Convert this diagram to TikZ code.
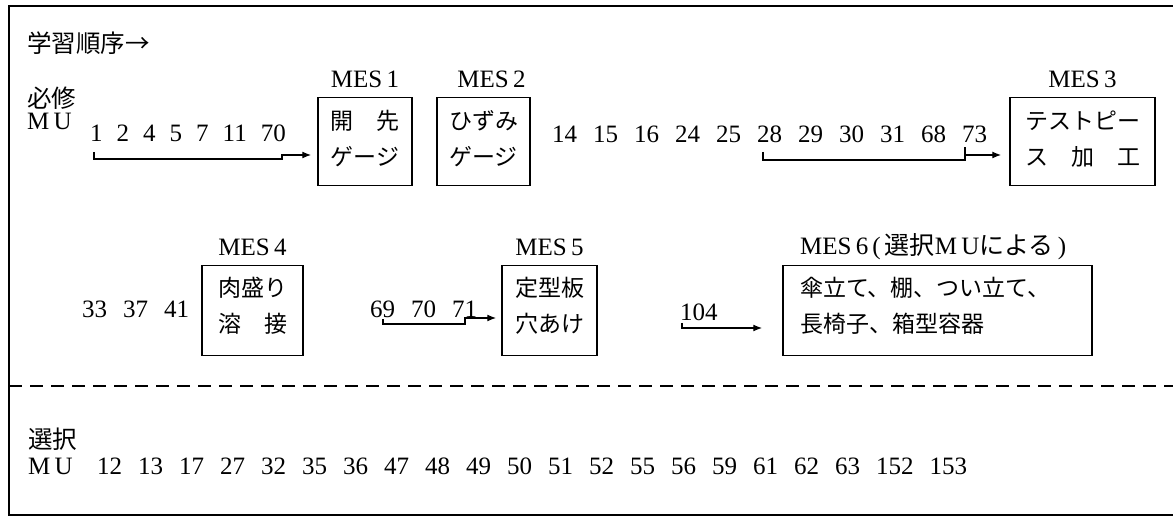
\documentclass[tikz,border=0pt]{standalone}
\usepackage{fontspec}
\setmainfont{Liberation Serif}
\newfontfamily\jpfont{Noto Sans CJK JP}
\usetikzlibrary{arrows.meta,positioning}
\newcommand\gp{\hspace{16pt}}
\newcommand\gpn{\hspace{14pt}}

\begin{document}
\begin{tikzpicture}[x=1pt,y=-1pt,>={Latex[length=9pt,width=7pt]},
    txt/.style={anchor=base west,inner sep=0pt,font=\fontsize{25}{30}\selectfont},
    jtxt/.style={anchor=base west,inner sep=0pt,font=\jpfont\fontsize{24.5}{28}\selectfont},
    mulbl/.style={anchor=base west,inner sep=0pt,font=\fontsize{25}{28}\selectfont},
    mesbox/.style={draw,line width=1.5pt,anchor=north,inner sep=0pt,align=center,
      font=\jpfont\fontsize{23}{36}\selectfont},
    topbox/.style={text height=68pt,text depth=20pt},
    lowbox/.style={text height=67pt,text depth=23pt},
    meslbl/.style={inner sep=0pt,font=\fontsize{25}{30}\selectfont},
    link/.style={line width=1.3pt}]
  \useasboundingbox (0,0) rectangle (1173,518);
  \draw[line width=2.5pt] (1173,6) -- (9,6) -- (9,515) -- (1173,515);
  \draw[line width=1.5pt,dash pattern=on 13pt off 8pt] (9,386) -- (1173,386);

  \node[jtxt] (order) at (27,53) {学習順序→};
  \node[jtxt] (req) at (27,108) {必修};
  \node[mulbl] (mu1) at (27,130) {M\,U};
  \node[txt] (g1) at (90,142) {1\gpn 2\gpn 4\gpn 5\gpn 7\gpn 11\gpn 70};
  \node[mesbox,topbox,minimum width=94pt] (mes1) at (365,97) {開　先\\ゲージ};
  \node[mesbox,topbox,minimum width=93pt] (mes2) at (483.5,97) {ひずみ\\ゲージ};
  \node[txt] (g2) at (552,143)
    {14\gp 15\gp 16\gp 24\gp 25\gp 28\gp 29\gp 30\gp 31\gp 68\gp 73};
  \node[mesbox,topbox,minimum width=145pt] (mes3) at (1082.5,97) {テストピー\\ス　加　工};
  \node[meslbl,above=9pt of mes1] (l1) {MES\,1};
  \node[meslbl,above=9pt of mes2,xshift=8pt] (l2) {MES\,2};
  \node[meslbl,above=9pt of mes3] (l3) {MES\,3};

  \node[txt] (g3) at (82,318) {33\gp 37\gp 41};
  \node[mesbox,lowbox,minimum width=101pt] (mes4) at (252.5,265) {肉盛り\\溶　接};
  \node[txt] (g4) at (370,318) {69\gp 70\gp 71};
  \node[mesbox,lowbox,minimum width=95pt] (mes5) at (549.5,265) {定型板\\穴あけ};
  \node[txt] (g5) at (680,321) {104};
  \node[mesbox,minimum width=309pt,text width=275pt,align=left,
    text height=31pt,text depth=59pt] (mes6)
    at (937.5,265) {傘立て、棚、つい立て、\\長椅子、箱型容器};
  \node[meslbl,above=9pt of mes4] (l4) {MES\,4};
  \node[meslbl,above=9pt of mes5] (l5) {MES\,5};
  \node[txt] (l6) at (800,255) {MES\,6\,(\,{\jpfont 選択}M\,U{\jpfont による}\,)};

  \node[jtxt] (opt) at (28,449) {選択};
  \node[mulbl] (mu2) at (28,475) {M\,U};
  \node[txt] (g6) at (97,475) {12\gp 13\gp 17\gp 27\gp 32\gp 35\gp 36\gp 47\gp 48\gp
    49\gp 50\gp 51\gp 52\gp 55\gp 56\gp 59\gp 61\gp 62\gp 63\gp 152\gp 153};

  \coordinate (b1s) at (94,152);
  \coordinate (b1e) at (282,155);
  \draw[link,->] (b1s) -- ++(0,7) -| (b1e) -- ([xshift=-6pt]b1e -| mes1.west);
  \coordinate (b2s) at (763,152);
  \coordinate (b2e) at (965,155);
  \draw[link,->] (b2s) -- ++(0,8) -| (b2e) -- ([xshift=-8pt]b2e -| mes3.west);
  \draw[link] (b2e) -- ++(0,-8);
  \coordinate (b3s) at (383,319);
  \coordinate (b3e) at (465,318);
  \draw[link,->] (b3s) -- ++(0,5) -| (b3e) -- ([xshift=-5pt]b3e -| mes5.west);
  \coordinate (b4s) at (682,323);
  \coordinate (b4e) at (682,328);
  \draw[link,->] (b4s) -- (b4e) -- ([xshift=-20pt]b4e -| mes6.west);
\end{tikzpicture}
\end{document}
